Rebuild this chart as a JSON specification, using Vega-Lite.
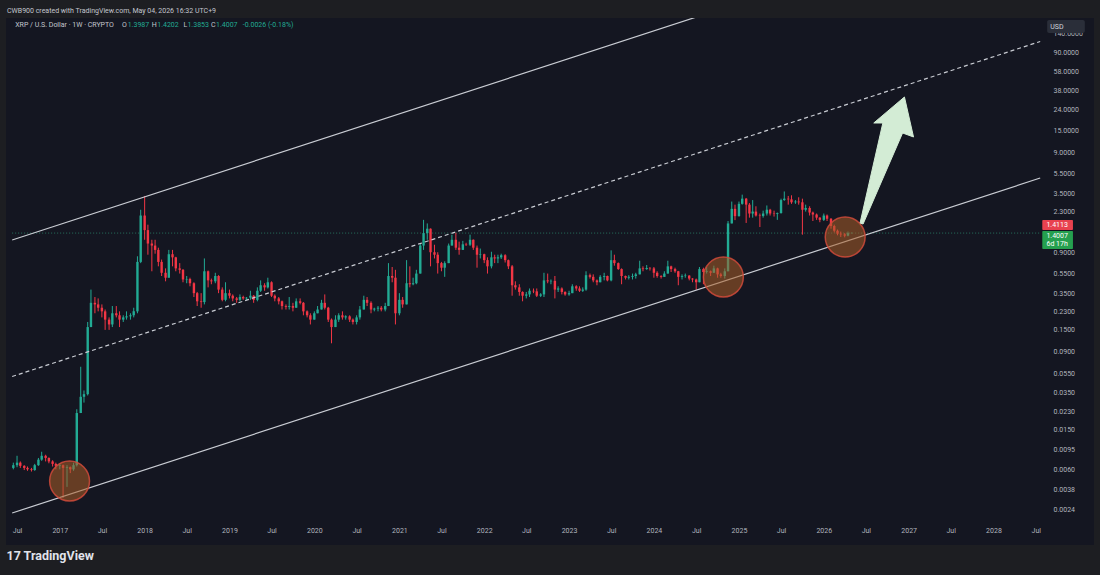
{
"$schema":"https://vega.github.io/schema/vega-lite/v6.json",
"width":1088,"height":527,"autosize":"none",
"padding":{"left":6,"top":18,"right":6,"bottom":30},
"background":"#1d1e22",
"config":{"view":{"fill":"#141621","stroke":null},"font":"Roboto","text":{"font":"Roboto"}},
"title":{"text":"CWB900 created with TradingView.com, May 04, 2026 16:32 UTC+9","anchor":"start","frame":"group","orient":"top","offset":4,"fontSize":7,"font":"Roboto","fontWeight":"normal","color":"#c3c6ce","dx":1},
"datasets":{"candles":[
{"t":"2016-06-15","o":0.0062,"h":0.0070,"l":0.0060,"c":0.0066},
{"t":"2016-07-01","o":0.0066,"h":0.0082,"l":0.0063,"c":0.0070},
{"t":"2016-07-15","o":0.0070,"h":0.0072,"l":0.0062,"c":0.0065},
{"t":"2016-08-01","o":0.0065,"h":0.0066,"l":0.0059,"c":0.0062},
{"t":"2016-08-15","o":0.0062,"h":0.0064,"l":0.0058,"c":0.0060},
{"t":"2016-09-01","o":0.0060,"h":0.0062,"l":0.0057,"c":0.0059},
{"t":"2016-09-15","o":0.0059,"h":0.0068,"l":0.0058,"c":0.0066},
{"t":"2016-10-01","o":0.0066,"h":0.0078,"l":0.0065,"c":0.0075},
{"t":"2016-10-15","o":0.0075,"h":0.0090,"l":0.0073,"c":0.0082},
{"t":"2016-11-01","o":0.0082,"h":0.0084,"l":0.0072,"c":0.0078},
{"t":"2016-11-15","o":0.0078,"h":0.0079,"l":0.0069,"c":0.0072},
{"t":"2016-12-01","o":0.0072,"h":0.0074,"l":0.0064,"c":0.0068},
{"t":"2016-12-15","o":0.0068,"h":0.0070,"l":0.0060,"c":0.0065},
{"t":"2017-01-01","o":0.0065,"h":0.0069,"l":0.0060,"c":0.0066},
{"t":"2017-01-15","o":0.0066,"h":0.0067,"l":0.0031,"c":0.0062},
{"t":"2017-02-01","o":0.0062,"h":0.0066,"l":0.0040,"c":0.0063},
{"t":"2017-02-15","o":0.0063,"h":0.0064,"l":0.0055,"c":0.0060},
{"t":"2017-03-01","o":0.0060,"h":0.0070,"l":0.0058,"c":0.0066},
{"t":"2017-03-15","o":0.0066,"h":0.024,"l":0.0064,"c":0.022},
{"t":"2017-04-01","o":0.022,"h":0.064,"l":0.022,"c":0.032},
{"t":"2017-04-15","o":0.032,"h":0.037,"l":0.028,"c":0.034},
{"t":"2017-05-01","o":0.034,"h":0.18,"l":0.033,"c":0.16},
{"t":"2017-05-15","o":0.16,"h":0.38,"l":0.16,"c":0.28},
{"t":"2017-06-01","o":0.28,"h":0.32,"l":0.22,"c":0.27},
{"t":"2017-06-15","o":0.27,"h":0.31,"l":0.23,"c":0.25},
{"t":"2017-07-01","o":0.25,"h":0.27,"l":0.20,"c":0.23},
{"t":"2017-07-15","o":0.23,"h":0.24,"l":0.15,"c":0.19},
{"t":"2017-08-01","o":0.19,"h":0.20,"l":0.15,"c":0.17},
{"t":"2017-08-15","o":0.17,"h":0.26,"l":0.16,"c":0.22},
{"t":"2017-09-01","o":0.22,"h":0.26,"l":0.20,"c":0.21},
{"t":"2017-09-15","o":0.21,"h":0.23,"l":0.16,"c":0.19},
{"t":"2017-10-01","o":0.19,"h":0.21,"l":0.18,"c":0.20},
{"t":"2017-10-15","o":0.20,"h":0.23,"l":0.19,"c":0.205},
{"t":"2017-11-01","o":0.205,"h":0.22,"l":0.19,"c":0.21},
{"t":"2017-11-15","o":0.21,"h":0.25,"l":0.20,"c":0.23},
{"t":"2017-12-01","o":0.23,"h":0.82,"l":0.22,"c":0.72},
{"t":"2017-12-15","o":0.72,"h":2.4,"l":0.70,"c":2.1},
{"t":"2018-01-01","o":2.1,"h":3.3,"l":1.2,"c":1.5},
{"t":"2018-01-15","o":1.5,"h":1.7,"l":0.85,"c":1.1},
{"t":"2018-02-01","o":1.1,"h":1.2,"l":0.58,"c":1.05},
{"t":"2018-02-15","o":1.05,"h":1.2,"l":0.87,"c":0.95},
{"t":"2018-03-01","o":0.95,"h":1.0,"l":0.65,"c":0.72},
{"t":"2018-03-15","o":0.72,"h":0.76,"l":0.52,"c":0.56},
{"t":"2018-04-01","o":0.56,"h":0.62,"l":0.46,"c":0.50},
{"t":"2018-04-15","o":0.50,"h":0.95,"l":0.50,"c":0.86},
{"t":"2018-05-01","o":0.86,"h":0.95,"l":0.65,"c":0.80},
{"t":"2018-05-15","o":0.80,"h":0.81,"l":0.58,"c":0.62},
{"t":"2018-06-01","o":0.62,"h":0.70,"l":0.55,"c":0.60},
{"t":"2018-06-15","o":0.60,"h":0.61,"l":0.45,"c":0.48},
{"t":"2018-07-01","o":0.48,"h":0.52,"l":0.44,"c":0.485},
{"t":"2018-07-15","o":0.485,"h":0.50,"l":0.41,"c":0.44},
{"t":"2018-08-01","o":0.44,"h":0.45,"l":0.32,"c":0.35},
{"t":"2018-08-15","o":0.35,"h":0.36,"l":0.26,"c":0.29},
{"t":"2018-09-01","o":0.29,"h":0.35,"l":0.25,"c":0.285},
{"t":"2018-09-15","o":0.285,"h":0.78,"l":0.27,"c":0.58},
{"t":"2018-10-01","o":0.58,"h":0.59,"l":0.40,"c":0.47},
{"t":"2018-10-15","o":0.47,"h":0.49,"l":0.43,"c":0.46},
{"t":"2018-11-01","o":0.46,"h":0.56,"l":0.44,"c":0.52},
{"t":"2018-11-15","o":0.52,"h":0.53,"l":0.35,"c":0.38},
{"t":"2018-12-01","o":0.38,"h":0.40,"l":0.29,"c":0.30},
{"t":"2018-12-15","o":0.30,"h":0.45,"l":0.29,"c":0.35},
{"t":"2019-01-01","o":0.35,"h":0.38,"l":0.31,"c":0.33},
{"t":"2019-01-15","o":0.33,"h":0.34,"l":0.29,"c":0.31},
{"t":"2019-02-01","o":0.31,"h":0.32,"l":0.28,"c":0.30},
{"t":"2019-02-15","o":0.30,"h":0.34,"l":0.29,"c":0.32},
{"t":"2019-03-01","o":0.32,"h":0.33,"l":0.30,"c":0.31},
{"t":"2019-03-15","o":0.31,"h":0.32,"l":0.30,"c":0.315},
{"t":"2019-04-01","o":0.315,"h":0.37,"l":0.30,"c":0.33},
{"t":"2019-04-15","o":0.33,"h":0.335,"l":0.28,"c":0.30},
{"t":"2019-05-01","o":0.30,"h":0.40,"l":0.29,"c":0.37},
{"t":"2019-05-15","o":0.37,"h":0.47,"l":0.36,"c":0.42},
{"t":"2019-06-01","o":0.42,"h":0.44,"l":0.37,"c":0.40},
{"t":"2019-06-15","o":0.40,"h":0.50,"l":0.39,"c":0.45},
{"t":"2019-07-01","o":0.45,"h":0.46,"l":0.32,"c":0.33},
{"t":"2019-07-15","o":0.33,"h":0.34,"l":0.29,"c":0.31},
{"t":"2019-08-01","o":0.31,"h":0.32,"l":0.27,"c":0.29},
{"t":"2019-08-15","o":0.29,"h":0.295,"l":0.24,"c":0.26},
{"t":"2019-09-01","o":0.26,"h":0.27,"l":0.24,"c":0.255},
{"t":"2019-09-15","o":0.255,"h":0.32,"l":0.24,"c":0.26},
{"t":"2019-10-01","o":0.26,"h":0.28,"l":0.23,"c":0.25},
{"t":"2019-10-15","o":0.25,"h":0.31,"l":0.25,"c":0.29},
{"t":"2019-11-01","o":0.29,"h":0.31,"l":0.27,"c":0.28},
{"t":"2019-11-15","o":0.28,"h":0.285,"l":0.21,"c":0.23},
{"t":"2019-12-01","o":0.23,"h":0.235,"l":0.20,"c":0.21},
{"t":"2019-12-15","o":0.21,"h":0.22,"l":0.17,"c":0.19},
{"t":"2020-01-01","o":0.19,"h":0.23,"l":0.19,"c":0.22},
{"t":"2020-01-15","o":0.22,"h":0.26,"l":0.22,"c":0.24},
{"t":"2020-02-01","o":0.24,"h":0.30,"l":0.24,"c":0.28},
{"t":"2020-02-15","o":0.28,"h":0.34,"l":0.24,"c":0.25},
{"t":"2020-03-01","o":0.25,"h":0.255,"l":0.18,"c":0.19},
{"t":"2020-03-15","o":0.19,"h":0.195,"l":0.11,"c":0.16},
{"t":"2020-04-01","o":0.16,"h":0.21,"l":0.16,"c":0.19},
{"t":"2020-04-15","o":0.19,"h":0.22,"l":0.18,"c":0.21},
{"t":"2020-05-01","o":0.21,"h":0.23,"l":0.19,"c":0.20},
{"t":"2020-05-15","o":0.20,"h":0.21,"l":0.19,"c":0.205},
{"t":"2020-06-01","o":0.205,"h":0.21,"l":0.18,"c":0.19},
{"t":"2020-06-15","o":0.19,"h":0.195,"l":0.17,"c":0.18},
{"t":"2020-07-01","o":0.18,"h":0.21,"l":0.17,"c":0.20},
{"t":"2020-07-15","o":0.20,"h":0.26,"l":0.19,"c":0.24},
{"t":"2020-08-01","o":0.24,"h":0.33,"l":0.24,"c":0.30},
{"t":"2020-08-15","o":0.30,"h":0.32,"l":0.26,"c":0.28},
{"t":"2020-09-01","o":0.28,"h":0.29,"l":0.22,"c":0.24},
{"t":"2020-09-15","o":0.24,"h":0.25,"l":0.23,"c":0.245},
{"t":"2020-10-01","o":0.245,"h":0.26,"l":0.23,"c":0.25},
{"t":"2020-10-15","o":0.25,"h":0.26,"l":0.23,"c":0.24},
{"t":"2020-11-01","o":0.24,"h":0.28,"l":0.23,"c":0.26},
{"t":"2020-11-15","o":0.26,"h":0.70,"l":0.26,"c":0.52},
{"t":"2020-12-01","o":0.52,"h":0.64,"l":0.45,"c":0.50},
{"t":"2020-12-15","o":0.50,"h":0.60,"l":0.17,"c":0.22},
{"t":"2021-01-01","o":0.22,"h":0.35,"l":0.21,"c":0.30},
{"t":"2021-01-15","o":0.30,"h":0.32,"l":0.25,"c":0.27},
{"t":"2021-02-01","o":0.27,"h":0.75,"l":0.27,"c":0.44},
{"t":"2021-02-15","o":0.44,"h":0.65,"l":0.40,"c":0.43},
{"t":"2021-03-01","o":0.43,"h":0.50,"l":0.42,"c":0.44},
{"t":"2021-03-15","o":0.44,"h":0.60,"l":0.43,"c":0.55},
{"t":"2021-04-01","o":0.55,"h":1.10,"l":0.55,"c":1.05},
{"t":"2021-04-15","o":1.05,"h":1.90,"l":0.95,"c":1.40},
{"t":"2021-05-01","o":1.40,"h":1.75,"l":1.20,"c":1.55},
{"t":"2021-05-15","o":1.55,"h":1.56,"l":0.65,"c":0.90},
{"t":"2021-06-01","o":0.90,"h":1.07,"l":0.78,"c":0.85},
{"t":"2021-06-15","o":0.85,"h":0.90,"l":0.55,"c":0.70},
{"t":"2021-07-01","o":0.70,"h":0.72,"l":0.58,"c":0.63},
{"t":"2021-07-15","o":0.63,"h":0.73,"l":0.51,"c":0.70},
{"t":"2021-08-01","o":0.70,"h":1.10,"l":0.70,"c":1.05},
{"t":"2021-08-15","o":1.05,"h":1.35,"l":1.05,"c":1.20},
{"t":"2021-09-01","o":1.20,"h":1.41,"l":0.95,"c":1.00},
{"t":"2021-09-15","o":1.00,"h":1.15,"l":0.85,"c":0.95},
{"t":"2021-10-01","o":0.95,"h":1.17,"l":0.95,"c":1.08},
{"t":"2021-10-15","o":1.08,"h":1.12,"l":1.04,"c":1.07},
{"t":"2021-11-01","o":1.07,"h":1.35,"l":1.04,"c":1.20},
{"t":"2021-11-15","o":1.20,"h":1.21,"l":0.95,"c":1.00},
{"t":"2021-12-01","o":1.00,"h":1.05,"l":0.63,"c":0.85},
{"t":"2021-12-15","o":0.85,"h":0.98,"l":0.78,"c":0.86},
{"t":"2022-01-01","o":0.86,"h":0.87,"l":0.70,"c":0.75},
{"t":"2022-01-15","o":0.75,"h":0.80,"l":0.55,"c":0.65},
{"t":"2022-02-01","o":0.65,"h":0.91,"l":0.62,"c":0.80},
{"t":"2022-02-15","o":0.80,"h":0.85,"l":0.70,"c":0.78},
{"t":"2022-03-01","o":0.78,"h":0.85,"l":0.70,"c":0.80},
{"t":"2022-03-15","o":0.80,"h":0.87,"l":0.77,"c":0.84},
{"t":"2022-04-01","o":0.84,"h":0.86,"l":0.71,"c":0.75},
{"t":"2022-04-15","o":0.75,"h":0.76,"l":0.61,"c":0.65},
{"t":"2022-05-01","o":0.65,"h":0.67,"l":0.33,"c":0.42},
{"t":"2022-05-15","o":0.42,"h":0.46,"l":0.38,"c":0.40},
{"t":"2022-06-01","o":0.40,"h":0.43,"l":0.33,"c":0.36},
{"t":"2022-06-15","o":0.36,"h":0.365,"l":0.29,"c":0.33},
{"t":"2022-07-01","o":0.33,"h":0.36,"l":0.31,"c":0.34},
{"t":"2022-07-15","o":0.34,"h":0.39,"l":0.32,"c":0.37},
{"t":"2022-08-01","o":0.37,"h":0.39,"l":0.35,"c":0.365},
{"t":"2022-08-15","o":0.365,"h":0.39,"l":0.32,"c":0.33},
{"t":"2022-09-01","o":0.33,"h":0.35,"l":0.32,"c":0.34},
{"t":"2022-09-15","o":0.34,"h":0.56,"l":0.32,"c":0.47},
{"t":"2022-10-01","o":0.47,"h":0.55,"l":0.44,"c":0.46},
{"t":"2022-10-15","o":0.46,"h":0.48,"l":0.43,"c":0.465},
{"t":"2022-11-01","o":0.465,"h":0.52,"l":0.31,"c":0.38},
{"t":"2022-11-15","o":0.38,"h":0.41,"l":0.36,"c":0.39},
{"t":"2022-12-01","o":0.39,"h":0.40,"l":0.34,"c":0.36},
{"t":"2022-12-15","o":0.36,"h":0.365,"l":0.33,"c":0.34},
{"t":"2023-01-01","o":0.34,"h":0.37,"l":0.33,"c":0.35},
{"t":"2023-01-15","o":0.35,"h":0.43,"l":0.35,"c":0.41},
{"t":"2023-02-01","o":0.41,"h":0.42,"l":0.37,"c":0.39},
{"t":"2023-02-15","o":0.39,"h":0.41,"l":0.36,"c":0.37},
{"t":"2023-03-01","o":0.37,"h":0.40,"l":0.36,"c":0.38},
{"t":"2023-03-15","o":0.38,"h":0.58,"l":0.37,"c":0.53},
{"t":"2023-04-01","o":0.53,"h":0.55,"l":0.49,"c":0.51},
{"t":"2023-04-15","o":0.51,"h":0.54,"l":0.45,"c":0.47},
{"t":"2023-05-01","o":0.47,"h":0.48,"l":0.42,"c":0.45},
{"t":"2023-05-15","o":0.45,"h":0.53,"l":0.45,"c":0.51},
{"t":"2023-06-01","o":0.51,"h":0.56,"l":0.47,"c":0.52},
{"t":"2023-06-15","o":0.52,"h":0.525,"l":0.46,"c":0.47},
{"t":"2023-07-01","o":0.47,"h":0.94,"l":0.46,"c":0.75},
{"t":"2023-07-15","o":0.75,"h":0.85,"l":0.66,"c":0.70},
{"t":"2023-08-01","o":0.70,"h":0.71,"l":0.60,"c":0.61},
{"t":"2023-08-15","o":0.61,"h":0.62,"l":0.43,"c":0.52},
{"t":"2023-09-01","o":0.52,"h":0.525,"l":0.48,"c":0.50},
{"t":"2023-09-15","o":0.50,"h":0.53,"l":0.48,"c":0.51},
{"t":"2023-10-01","o":0.51,"h":0.55,"l":0.48,"c":0.52},
{"t":"2023-10-15","o":0.52,"h":0.56,"l":0.49,"c":0.54},
{"t":"2023-11-01","o":0.54,"h":0.74,"l":0.54,"c":0.62},
{"t":"2023-11-15","o":0.62,"h":0.65,"l":0.58,"c":0.61},
{"t":"2023-12-01","o":0.61,"h":0.67,"l":0.60,"c":0.625},
{"t":"2023-12-15","o":0.625,"h":0.64,"l":0.59,"c":0.62},
{"t":"2024-01-01","o":0.62,"h":0.64,"l":0.50,"c":0.56},
{"t":"2024-01-15","o":0.56,"h":0.58,"l":0.50,"c":0.52},
{"t":"2024-02-01","o":0.52,"h":0.53,"l":0.49,"c":0.51},
{"t":"2024-02-15","o":0.51,"h":0.58,"l":0.51,"c":0.55},
{"t":"2024-03-01","o":0.55,"h":0.74,"l":0.55,"c":0.65},
{"t":"2024-03-15","o":0.65,"h":0.66,"l":0.57,"c":0.61},
{"t":"2024-04-01","o":0.61,"h":0.63,"l":0.56,"c":0.58},
{"t":"2024-04-15","o":0.58,"h":0.585,"l":0.42,"c":0.51},
{"t":"2024-05-01","o":0.51,"h":0.54,"l":0.48,"c":0.52},
{"t":"2024-05-15","o":0.52,"h":0.55,"l":0.50,"c":0.525},
{"t":"2024-06-01","o":0.525,"h":0.53,"l":0.47,"c":0.49},
{"t":"2024-06-15","o":0.49,"h":0.495,"l":0.45,"c":0.48},
{"t":"2024-07-01","o":0.48,"h":0.49,"l":0.38,"c":0.45},
{"t":"2024-07-15","o":0.45,"h":0.64,"l":0.45,"c":0.61},
{"t":"2024-08-01","o":0.61,"h":0.63,"l":0.43,"c":0.57},
{"t":"2024-08-15","o":0.57,"h":0.64,"l":0.55,"c":0.58},
{"t":"2024-09-01","o":0.58,"h":0.59,"l":0.52,"c":0.56},
{"t":"2024-09-15","o":0.56,"h":0.66,"l":0.56,"c":0.62},
{"t":"2024-10-01","o":0.62,"h":0.63,"l":0.50,"c":0.54},
{"t":"2024-10-15","o":0.54,"h":0.56,"l":0.50,"c":0.52},
{"t":"2024-11-01","o":0.52,"h":0.62,"l":0.49,"c":0.58},
{"t":"2024-11-15","o":0.58,"h":1.85,"l":0.58,"c":1.75},
{"t":"2024-12-01","o":1.75,"h":2.90,"l":1.75,"c":2.45},
{"t":"2024-12-15","o":2.45,"h":2.70,"l":1.89,"c":2.07},
{"t":"2025-01-01","o":2.07,"h":2.90,"l":2.05,"c":2.75},
{"t":"2025-01-15","o":2.75,"h":3.40,"l":2.70,"c":3.10},
{"t":"2025-02-01","o":3.10,"h":3.15,"l":1.77,"c":2.70},
{"t":"2025-02-15","o":2.70,"h":2.80,"l":2.00,"c":2.20},
{"t":"2025-03-01","o":2.20,"h":3.00,"l":2.00,"c":2.30},
{"t":"2025-03-15","o":2.30,"h":2.60,"l":2.05,"c":2.10},
{"t":"2025-04-01","o":2.10,"h":2.20,"l":1.61,"c":2.08},
{"t":"2025-04-15","o":2.08,"h":2.35,"l":2.00,"c":2.20},
{"t":"2025-05-01","o":2.20,"h":2.65,"l":2.10,"c":2.40},
{"t":"2025-05-15","o":2.40,"h":2.45,"l":2.10,"c":2.20},
{"t":"2025-06-01","o":2.20,"h":2.35,"l":2.05,"c":2.18},
{"t":"2025-06-15","o":2.18,"h":2.25,"l":1.90,"c":2.22},
{"t":"2025-07-01","o":2.22,"h":3.10,"l":2.20,"c":3.00},
{"t":"2025-07-15","o":3.00,"h":3.66,"l":2.95,"c":3.10},
{"t":"2025-08-01","o":3.10,"h":3.30,"l":2.70,"c":3.05},
{"t":"2025-08-15","o":3.05,"h":3.35,"l":2.75,"c":2.85},
{"t":"2025-09-01","o":2.85,"h":3.00,"l":2.75,"c":2.90},
{"t":"2025-09-15","o":2.90,"h":3.20,"l":2.70,"c":2.85},
{"t":"2025-10-01","o":2.85,"h":3.10,"l":1.35,"c":2.40},
{"t":"2025-10-15","o":2.40,"h":2.70,"l":2.30,"c":2.50},
{"t":"2025-11-01","o":2.50,"h":2.60,"l":2.10,"c":2.25},
{"t":"2025-11-15","o":2.25,"h":2.30,"l":1.85,"c":2.15},
{"t":"2025-12-01","o":2.15,"h":2.20,"l":1.90,"c":2.00},
{"t":"2025-12-15","o":2.00,"h":2.02,"l":1.80,"c":1.90},
{"t":"2026-01-01","o":1.90,"h":2.20,"l":1.85,"c":2.10},
{"t":"2026-01-15","o":2.10,"h":2.15,"l":1.85,"c":1.95},
{"t":"2026-02-01","o":1.95,"h":1.98,"l":1.55,"c":1.65},
{"t":"2026-02-15","o":1.65,"h":1.70,"l":1.42,"c":1.48},
{"t":"2026-03-01","o":1.48,"h":1.52,"l":1.33,"c":1.38},
{"t":"2026-03-15","o":1.38,"h":1.45,"l":1.28,"c":1.36},
{"t":"2026-04-01","o":1.36,"h":1.40,"l":1.27,"c":1.32},
{"t":"2026-04-15","o":1.32,"h":1.45,"l":1.30,"c":1.3987},
{"t":"2026-05-01","o":1.3987,"h":1.4202,"l":1.3853,"c":1.4007}
]},
"layer":[
{"data":{"values":[{}]},"mark":{"type":"rule","color":"#2f9e7a","strokeDash":[1,2],"strokeWidth":1,"opacity":0.7},
 "encoding":{"x":{"datum":{"year":2016,"month":6,"date":10,"utc":true},"type":"temporal"},"x2":{"datum":{"year":2028,"month":7,"date":20,"utc":true}},"y":{"datum":1.4007,"type":"quantitative"}}},
{"data":{"name":"candles"},"mark":{"type":"rule","strokeWidth":1},
 "encoding":{
  "x":{"field":"t","type":"temporal","scale":{"type":"utc","domain":[{"year":2016,"month":6,"date":5,"utc":true},{"year":2029,"month":2,"date":15,"utc":true}]},
   "axis":{"orient":"bottom","offset":-25,"tickCount":{"interval":"month","step":6},"labelExpr":"utcyear(datum.value) > 2028 ? '' : (utcmonth(datum.value) == 0 ? utcFormat(datum.value, '%Y') : 'Jul')","labelFlush":false,"labelOverlap":false,"ticks":false,"domain":false,"grid":false,"labelPadding":6,"labelColor":"#b2b5be","labelFont":"Roboto","labelFontSize":7,"title":"17 TradingView","titleAnchor":"start","titleAlign":"left","titleFont":"Roboto","titleFontSize":12.5,"titleFontWeight":"bold","titleColor":"#e0e3eb","titlePadding":16}},
  "y":{"field":"l","type":"quantitative","scale":{"type":"log","domain":[0.001046,200.6],"nice":false},
   "axis":{"orient":"right","offset":-49,"values":[0.0024,0.0038,0.006,0.0095,0.015,0.023,0.035,0.055,0.09,0.15,0.23,0.35,0.55,0.9,2.3,3.5,5.5,9,15,24,38,58,90,140],"format":".4f","labelAlign":"left","labelBaseline":"middle","labelPadding":8,"ticks":false,"domain":false,"grid":false,"labelColor":"#b2b5be","labelFont":"Roboto","labelFontSize":7,"labelOverlap":false,"labelFlush":false,"title":null}},
  "y2":{"field":"h"},
  "color":{"condition":{"test":"datum.c >= datum.o","value":"#22ab94"},"value":"#f23645"}}},
{"data":{"name":"candles"},"mark":{"type":"bar","width":2.4},
 "encoding":{"x":{"field":"t","type":"temporal"},"y":{"field":"o","type":"quantitative"},"y2":{"field":"c"},
  "color":{"condition":{"test":"datum.c >= datum.o","value":"#22ab94"},"value":"#f23645"}}},
{"data":{"values":[{"k":"upper","t":"2016-06-10","p":1.194},{"k":"upper","t":"2028-07-20","p":2724},{"k":"lower","t":"2016-06-10","p":0.00219},{"k":"lower","t":"2028-07-20","p":4.99}]},
 "mark":{"type":"line","color":"#c9ccd3","strokeWidth":1.2,"clip":true},
 "encoding":{"x":{"field":"t","type":"temporal"},"y":{"field":"p","type":"quantitative"},"detail":{"field":"k"}}},
{"data":{"values":[{"t":"2016-06-10","p":0.05114},{"t":"2028-07-20","p":116.6}]},
 "mark":{"type":"line","color":"#c9ccd3","strokeWidth":1.2,"strokeDash":[4,3],"clip":true},
 "encoding":{"x":{"field":"t","type":"temporal"},"y":{"field":"p","type":"quantitative"}}},
{"data":{"values":[{"t":"2017-02-12","p":0.00458},{"t":"2024-10-26","p":0.508},{"t":"2026-04-03","p":1.279}]},
 "mark":{"type":"point","shape":"circle","filled":true,"size":1590,"fill":"#a95f28","fillOpacity":0.55,"stroke":"#d04a3a","strokeWidth":1.5,"strokeOpacity":0.85,"opacity":1},
 "encoding":{"x":{"field":"t","type":"temporal"},"y":{"field":"p","type":"quantitative"}}},
{"data":{"values":[{"i":0,"t":"2026-06-06","p":1.767},{"i":1,"t":"2026-09-12","p":17.78},{"i":2,"t":"2026-08-04","p":17.78},{"i":3,"t":"2026-12-14","p":32.4},{"i":4,"t":"2027-01-22","p":12.87},{"i":5,"t":"2026-12-06","p":14.12},{"i":6,"t":"2026-06-19","p":1.727}]},
 "mark":{"type":"line","fill":"#d3ecd5","stroke":"#d3ecd5","strokeWidth":1,"interpolate":"linear-closed"},
 "encoding":{"x":{"field":"t","type":"temporal"},"y":{"field":"p","type":"quantitative"},"order":{"field":"i","type":"quantitative"}}},
{"data":{"values":[{}]},"mark":{"type":"rect","fill":"#e8424f","cornerRadius":1},
 "encoding":{"x":{"datum":{"year":2028,"month":7,"date":29,"utc":true},"type":"temporal"},"x2":{"datum":{"year":2028,"month":12,"date":8,"utc":true}},"y":{"datum":1.894,"type":"quantitative"},"y2":{"datum":1.50}}},
{"data":{"values":[{}]},"mark":{"type":"rect","fill":"#25a04f","cornerRadius":1},
 "encoding":{"x":{"datum":{"year":2028,"month":7,"date":29,"utc":true},"type":"temporal"},"x2":{"datum":{"year":2028,"month":12,"date":8,"utc":true}},"y":{"datum":1.469,"type":"quantitative"},"y2":{"datum":0.970}}},
{"data":{"values":[{}]},"mark":{"type":"rect","fill":"#2a2e39","cornerRadius":2},
 "encoding":{"x":{"datum":{"year":2028,"month":8,"date":19,"utc":true},"type":"temporal"},"x2":{"datum":{"year":2029,"month":1,"date":28,"utc":true}},"y":{"datum":191.5,"type":"quantitative"},"y2":{"datum":142}}},
{"data":{"values":[{}]},"mark":{"type":"text","text":"USD","align":"left","baseline":"middle","fontSize":7,"color":"#d1d4dc"},
 "encoding":{"x":{"datum":{"year":2028,"month":9,"date":1,"utc":true},"type":"temporal"},"y":{"datum":163,"type":"quantitative"}}},
{"data":{"values":[{}]},"mark":{"type":"text","text":"1.4113","align":"center","baseline":"middle","fontSize":7,"color":"#ffffff"},
 "encoding":{"x":{"datum":{"year":2028,"month":10,"date":1,"utc":true},"type":"temporal"},"y":{"datum":1.688,"type":"quantitative"}}},
{"data":{"values":[{}]},"mark":{"type":"text","text":"1.4007","align":"center","baseline":"middle","fontSize":7,"color":"#ffffff"},
 "encoding":{"x":{"datum":{"year":2028,"month":10,"date":1,"utc":true},"type":"temporal"},"y":{"datum":1.309,"type":"quantitative"}}},
{"data":{"values":[{}]},"mark":{"type":"text","text":"6d 17h","align":"center","baseline":"middle","fontSize":7,"color":"#ffffff"},
 "encoding":{"x":{"datum":{"year":2028,"month":10,"date":1,"utc":true},"type":"temporal"},"y":{"datum":1.089,"type":"quantitative"}}},
{"data":{"values":[{}]},"mark":{"type":"text","text":"XRP / U.S. Dollar · 1W · CRYPTO","align":"left","baseline":"middle","fontSize":7,"color":"#c3c6ce"},
 "encoding":{"x":{"datum":{"year":2016,"month":6,"date":23,"utc":true},"type":"temporal"},"y":{"datum":170.7,"type":"quantitative"}}},
{"data":{"values":[{}]},"mark":{"type":"text","text":"O","align":"left","baseline":"middle","fontSize":7,"color":"#c3c6ce"},
 "encoding":{"x":{"datum":{"year":2017,"month":9,"date":26,"utc":true},"type":"temporal"},"y":{"datum":170.7,"type":"quantitative"}}},
{"data":{"values":[{}]},"mark":{"type":"text","text":"1.3987","align":"left","baseline":"middle","fontSize":7,"color":"#22ab94"},
 "encoding":{"x":{"datum":{"year":2017,"month":10,"date":20,"utc":true},"type":"temporal"},"y":{"datum":170.7,"type":"quantitative"}}},
{"data":{"values":[{}]},"mark":{"type":"text","text":"H","align":"left","baseline":"middle","fontSize":7,"color":"#c3c6ce"},
 "encoding":{"x":{"datum":{"year":2018,"month":2,"date":1,"utc":true},"type":"temporal"},"y":{"datum":170.7,"type":"quantitative"}}},
{"data":{"values":[{}]},"mark":{"type":"text","text":"1.4202","align":"left","baseline":"middle","fontSize":7,"color":"#22ab94"},
 "encoding":{"x":{"datum":{"year":2018,"month":2,"date":24,"utc":true},"type":"temporal"},"y":{"datum":170.7,"type":"quantitative"}}},
{"data":{"values":[{}]},"mark":{"type":"text","text":"L","align":"left","baseline":"middle","fontSize":7,"color":"#c3c6ce"},
 "encoding":{"x":{"datum":{"year":2018,"month":6,"date":17,"utc":true},"type":"temporal"},"y":{"datum":170.7,"type":"quantitative"}}},
{"data":{"values":[{}]},"mark":{"type":"text","text":"1.3853","align":"left","baseline":"middle","fontSize":7,"color":"#22ab94"},
 "encoding":{"x":{"datum":{"year":2018,"month":7,"date":4,"utc":true},"type":"temporal"},"y":{"datum":170.7,"type":"quantitative"}}},
{"data":{"values":[{}]},"mark":{"type":"text","text":"C","align":"left","baseline":"middle","fontSize":7,"color":"#c3c6ce"},
 "encoding":{"x":{"datum":{"year":2018,"month":10,"date":14,"utc":true},"type":"temporal"},"y":{"datum":170.7,"type":"quantitative"}}},
{"data":{"values":[{}]},"mark":{"type":"text","text":"1.4007","align":"left","baseline":"middle","fontSize":7,"color":"#22ab94"},
 "encoding":{"x":{"datum":{"year":2018,"month":11,"date":4,"utc":true},"type":"temporal"},"y":{"datum":170.7,"type":"quantitative"}}},
{"data":{"values":[{}]},"mark":{"type":"text","text":"-0.0026 (-0.18%)","align":"left","baseline":"middle","fontSize":7,"color":"#22ab94"},
 "encoding":{"x":{"datum":{"year":2019,"month":2,"date":27,"utc":true},"type":"temporal"},"y":{"datum":170.7,"type":"quantitative"}}}
]
}
